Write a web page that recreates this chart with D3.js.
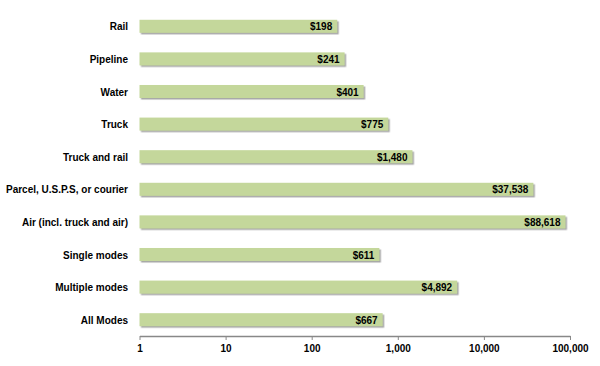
<!DOCTYPE html>
<html><head><meta charset="utf-8">
<script src="https://cdn.jsdelivr.net/npm/d3@7"></script>
<style>
body{margin:0;background:#fff;}
text{font-family:"Liberation Sans",Arial,sans-serif;font-weight:bold;}
</style></head>
<body><svg id="c" width="600" height="366"></svg>
<script>
const categories = ["Rail","Pipeline","Water","Truck","Truck and rail","Parcel, U.S.P.S, or courier","Air (incl. truck and air)","Single modes","Multiple modes","All Modes"];
const values = [198,241,401,775,1480,37538,88618,611,4892,667];
const tickValues = [1,10,100,1000,10000,100000];
const tickLabels = ["1","10","100","1,000","10,000","100,000"];

const SX = 0.87;
const svg = d3.select("#c");
const x = d3.scaleLog().domain([1,100000]).range([139.5,570]);
const y = d3.scaleBand().domain(categories).range([10,336]).paddingInner(0.6).paddingOuter(0.3);

const defs = svg.append("defs");
const f = defs.append("filter").attr("id","sh").attr("x","-5%").attr("y","-30%").attr("width","110%").attr("height","180%");
f.append("feDropShadow").attr("dx",1.5).attr("dy",1.5).attr("stdDeviation",0.6).attr("flood-color","#808080").attr("flood-opacity",0.7);

const g = svg.append("g");
g.selectAll("rect.bar").data(values).join("rect").attr("class","bar")
  .attr("x", x(1)).attr("y",(d,i)=>y(categories[i]))
  .attr("width", d=>x(d)-x(1)).attr("height", y.bandwidth())
  .attr("fill","#c4d79b").attr("filter","url(#sh)");

g.selectAll("text.val").data(values).join("text").attr("class","val")
  .attr("transform",(d,i)=>`translate(${x(d)-5},${y(categories[i])+y.bandwidth()/2}) scale(${SX},1)`)
  .attr("dy","0.35em").attr("text-anchor","end").attr("font-size",11.5).attr("fill","#000")
  .text(d=>"$"+d3.format(",")(d));

g.selectAll("text.cat").data(categories).join("text").attr("class","cat")
  .attr("transform",d=>`translate(128,${y(d)+y.bandwidth()/2}) scale(${SX},1)`).attr("dy","0.35em")
  .attr("text-anchor","end").attr("font-size",11.5).attr("fill","#000").text(d=>d);

const axis = d3.axisBottom(x).tickValues(tickValues).tickFormat((d,i)=>tickLabels[i]).tickSize(4).tickSizeOuter(0);
const ax = svg.append("g").attr("transform","translate(0,336)").call(axis);
ax.select(".domain").attr("stroke","#888").attr("stroke-width",1.5);
ax.selectAll(".tick line").attr("stroke","#888");
ax.selectAll(".tick text").attr("font-size",11.5).attr("fill","#000").attr("y",16).attr("dy","0")
  .attr("transform",`scale(${SX},1)`)
  .attr("font-family",'"Liberation Sans",Arial,sans-serif').attr("font-weight","bold");
</script></body></html>
